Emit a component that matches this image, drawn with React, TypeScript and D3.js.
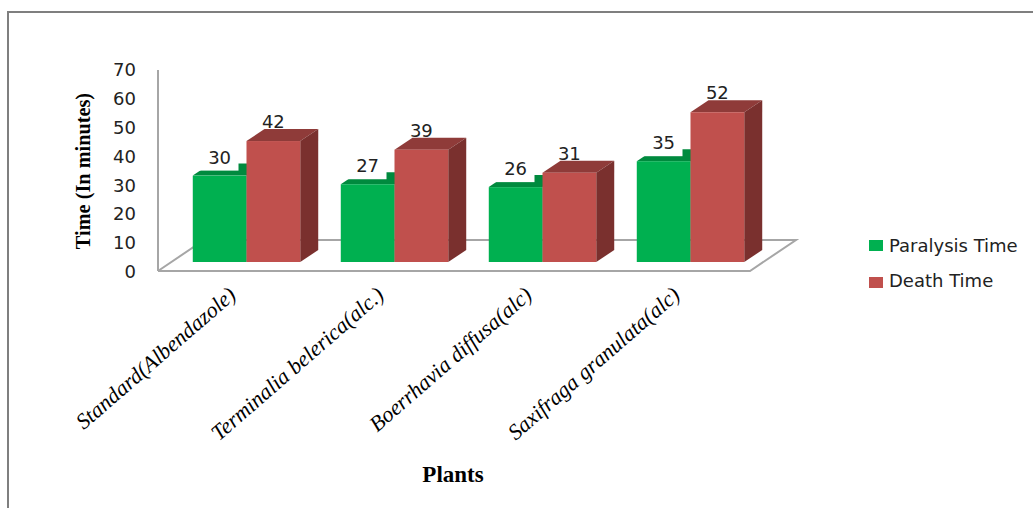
import React from "react";
import * as d3 from "d3";

const categories = [
  "Standard(Albendazole)",
  "Terminalia belerica(alc.)",
  "Boerrhavia diffusa(alc)",
  "Saxifraga granulata(alc)",
];
const paralysisTime = [30, 27, 26, 35];
const deathTime = [42, 39, 31, 52];
const yTicks = [0, 10, 20, 30, 40, 50, 60, 70];
const seriesNames = ["Paralysis Time", "Death Time"];

const W = 1033;
const H = 508;
const DEPTH_X = 18;
const DEPTH_Y = 12;
const FRONT_BASE = 262;
const LABEL_FONT = "'DejaVu Sans', sans-serif";
const SERIF = "'Liberation Serif', serif";

const palette = [
  { front: "#00B050", top: "#008A3E", side: "#007F3A" },
  { front: "#C0504D", top: "#8F3B39", side: "#7A302E" },
];

const x0 = d3.scaleBand<string>().domain(categories).range([172.5, 764.5]).paddingInner(0.274).paddingOuter(0.137);
const x1 = d3.scaleBand<string>().domain(seriesNames).range([0, x0.bandwidth()]);
const y = d3.scaleLinear().domain([0, 70]).range([FRONT_BASE, FRONT_BASE - 201.6]);

function Bar({ x, w, value, colors }: { x: number; w: number; value: number; colors: typeof palette[0] }) {
  const t = y(value);
  const b = y(0);
  const path = d3.path();
  path.moveTo(x, t);
  path.lineTo(x + DEPTH_X, t - DEPTH_Y);
  path.lineTo(x + w + DEPTH_X, t - DEPTH_Y);
  path.lineTo(x + w, t);
  path.closePath();
  const side = d3.path();
  side.moveTo(x + w, t);
  side.lineTo(x + w + DEPTH_X, t - DEPTH_Y);
  side.lineTo(x + w + DEPTH_X, b - DEPTH_Y);
  side.lineTo(x + w, b);
  side.closePath();
  return (
    <g>
      <path d={path.toString()} fill={colors.top} />
      <path d={side.toString()} fill={colors.side} />
      <rect x={x} y={t} width={w} height={b - t} fill={colors.front} />
    </g>
  );
}

export default function App() {
  const floor = d3.line()([
    [158, 271],
    [750, 271],
    [796, 240],
    [204, 240],
    [158, 271],
  ]) as string;
  const w = x1.bandwidth();
  return (
    <svg width={W} height={H} style={{ position: "absolute", left: 0, top: 0, background: "#fff" }}>
      {/* outer frame: only the top and left edges fall inside the canvas */}
      <path d={`M${W},12 H8 V${H}`} fill="none" stroke="#7f7f7f" strokeWidth={2} />

      {/* wall edge and floor of the 3D plot */}
      <path d={floor} fill="none" stroke="#a6a6a6" strokeWidth={2} />
      <line x1={158} x2={158} y1={70} y2={271} stroke="#a6a6a6" strokeWidth={2} />

      {yTicks.map((t) => (
        <text key={t} x={136} y={y(t) + 16} textAnchor="end" fontFamily={LABEL_FONT} fontSize={18} fill="#222">
          {t}
        </text>
      ))}

      {categories.map((c, i) => {
        const gx = x0(c) as number;
        const gx1 = gx + (x1(seriesNames[0]) as number);
        const gx2 = gx + (x1(seriesNames[1]) as number);
        return (
          <g key={c}>
            <Bar x={gx1} w={w} value={paralysisTime[i]} colors={palette[0]} />
            {/* the value label's white box hides part of the green top */}
            <rect x={gx1 - 4} y={y(paralysisTime[i]) - 32} width={w - 4} height={27} fill="#fff" />
            <Bar x={gx2} w={w} value={deathTime[i]} colors={palette[1]} />
            <text x={gx1 + w / 2} y={y(paralysisTime[i]) - 12} textAnchor="middle" fontFamily={LABEL_FONT} fontSize={18} fill="#222">
              {paralysisTime[i]}
            </text>
            <text x={gx2 + w / 2} y={y(deathTime[i]) - 13} textAnchor="middle" fontFamily={LABEL_FONT} fontSize={18} fill="#222">
              {deathTime[i]}
            </text>
            <text
              transform={`translate(${gx2 + w - 63},297) rotate(-41)`}
              textAnchor="end"
              fontFamily={SERIF}
              fontStyle="italic"
              fontSize={22}
              fill="#000"
            >
              {c}
            </text>
          </g>
        );
      })}

      <text
        transform="translate(90,171) rotate(-90)"
        textAnchor="middle"
        fontFamily={SERIF}
        fontWeight="bold"
        fontSize={20.3}
        fill="#000"
      >
        Time (In minutes)
      </text>
      <text x={453} y={482} textAnchor="middle" fontFamily={SERIF} fontWeight="bold" fontSize={23} fill="#000">
        Plants
      </text>

      {seriesNames.map((name, i) => (
        <g key={name}>
          <rect x={869} y={240 + i * 37} width={14} height={11} fill={palette[i].front} />
          <text x={889} y={252 + i * 35} fontFamily={LABEL_FONT} fontSize={18} fill="#222">
            {name}
          </text>
        </g>
      ))}
    </svg>
  );
}
